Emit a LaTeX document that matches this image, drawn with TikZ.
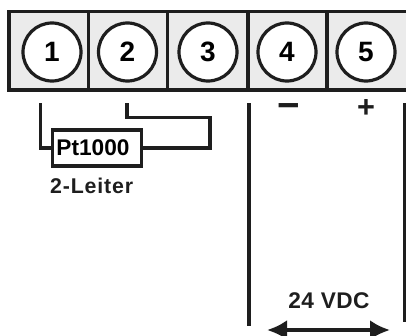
\documentclass[tikz,border=0pt]{standalone}
\usepackage{fontspec}
\setmainfont{Liberation Sans}
\newfontfamily\spacedfont[LetterSpace=4]{Liberation Sans}
\newfontfamily\widefont[LetterSpace=2]{Liberation Sans}
\usetikzlibrary{arrows.meta,positioning}
\definecolor{darkline}{RGB}{30,30,30}
\definecolor{termfill}{RGB}{235,235,235}
\tikzset{
  terminal/.style={circle,draw=darkline,line width=2.4pt,fill=white,minimum size=43.5pt,inner sep=0pt,font=\fontsize{21}{21}\selectfont\bfseries},
  wire/.style={draw=darkline,line width=2.6pt},
  sensor/.style={rectangle,draw=darkline,line width=2.6pt,fill=white,minimum width=67pt,minimum height=27pt,inner sep=0pt,font=\fontsize{17}{17}\selectfont\bfseries},
  caption/.style={inner sep=0pt,text=darkline}
}
\begin{document}
\begin{tikzpicture}[x=.75pt,y=-.75pt]
  \useasboundingbox (0,0) rectangle (406,335);
  % terminal strip
  \fill[termfill] (9,11.5) rectangle (406,90);
  \draw[wire] (406,11.5) -- (9,11.5) -- (9,90) -- (406,90);
  \foreach \x in {88.5,167.5,248,327}
    \draw[wire] (\x,11.5) -- (\x,90);
  \node[terminal] (t1) at (52,52) {1};
  \node[terminal] (t2) at (127.5,52) {2};
  \node[terminal] (t3) at (208,52) {3};
  \node[terminal] (t4) at (287,52) {4};
  \node[terminal] (t5) at (366,52) {5};

  % sensor
  \node[sensor] (pt) at (97,148) {Pt1000\kern6pt};
  \node[caption,font=\fontsize{16}{16}\selectfont\bfseries\spacedfont,below=7.5pt of pt.south,xshift=-4pt] (leiter) {2-Leiter};
  \coordinate (a1) at (40.5,103);
  \coordinate (a2) at (127,103);
  \coordinate (a3) at (210,117.5);
  \draw[wire] (a1) |- (pt.west);
  \draw[wire] (a2) |- (a3) |- (pt.east);

  % supply
  \coordinate (v1a) at (249,103);
  \coordinate (v1b) at (249,326);
  \coordinate (v2a) at (405,103);
  \coordinate (v2b) at (405,322);
  \draw[wire] (v1a) -- (v1b);
  \draw[wire] (v2a) -- (v2b);
  \node[caption,font=\fontsize{29}{29}\selectfont\bfseries] (minus) at (289,111.5) {−};
  \node[caption,font=\fontsize{23}{23}\selectfont\bfseries] (plus) at (366,109) {+};
  \node[caption,font=\fontsize{17}{17}\selectfont\bfseries\widefont] (volt) at (329,301) {24 VDC};
  \coordinate (b1) at (267,330);
  \coordinate (b2) at (390,330);
  \draw[wire,line width=3.2pt,{Latex[length=15pt,width=15pt]}-{Latex[length=15pt,width=15pt]}] (b1) -- (b2);
\end{tikzpicture}
\end{document}
